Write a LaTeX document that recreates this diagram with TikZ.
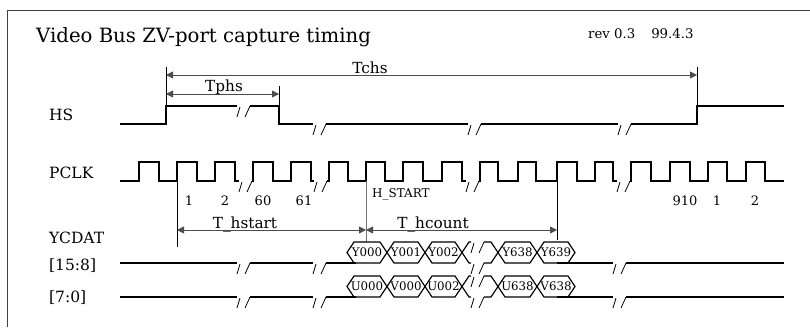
\documentclass[tikz,border=0pt]{standalone}
\usepackage{fontspec}
\setmainfont{DejaVu Serif}
\usetikzlibrary{arrows.meta}
\newcommand\brk[2]{\draw[brkline] (#1,#2+11) -- (#1+3,#2+1) (#1+8,#2+11) -- (#1+13,#2);}
\newcommand\hexcell[6]{%
  \draw[hexline] (#1,{(#3+#4)/2}) -- (#1+7,#3) -- (#2-7,#3) -- (#2,{(#3+#4)/2}) -- (#2-7,#4) -- (#1+7,#4) -- cycle;
  \node[hextext] (#5) at ({(#1+#2)/2},{(#3+#4)/2}) {#6};}
\tikzset{
  wave/.style={line width=1.5pt, line join=miter},
  hexline/.style={line width=1.2pt, line join=miter},
  brkline/.style={line width=0.8pt},
  tick/.style={line width=0.8pt},
  greytick/.style={line width=0.8pt, black!55},
  dimarrow/.style={line width=0.8pt, black!70, {Triangle[length=7pt,width=7pt]}-{Triangle[length=7pt,width=7pt]}},
  lbl/.style={font=\fontsize{15.5}{17}\selectfont, anchor=base west, inner sep=0pt},
  num/.style={font=\fontsize{13}{15}\selectfont, anchor=base, inner sep=0pt},
  small/.style={font=\fontsize{12}{14}\selectfont, anchor=base west, inner sep=0pt},
  dimlbl/.style={font=\fontsize{15.3}{17}\selectfont, anchor=base, inner sep=0pt},
  hextext/.style={font=\fontsize{11.8}{13}\selectfont, inner sep=0pt},
}
\begin{document}
\begin{tikzpicture}[x=1pt,y=-1pt]
\useasboundingbox (0,0) rectangle (810,327);
% frame
\draw[line width=0.9pt, black!75] (7,327) -- (7,10) -- (810,10);
% title
\node[font=\fontsize{19.7}{22}\selectfont, anchor=base west, inner sep=0pt] (title) at (36,42) {Video Bus ZV-port capture timing};
\node[font=\fontsize{13.3}{15}\selectfont, anchor=base west, inner sep=0pt] (rev) at (588,38) {rev 0.3\hspace{1.2em}99.4.3};
% signal labels
\node[lbl] (lHS) at (49,120) {HS};
\node[lbl] (lPCLK) at (49,178) {PCLK};
\node[lbl] (lYC) at (49,243) {YCDAT};
\node[lbl] (lHi) at (49,270) {[15:8]};
\node[lbl] (lLo) at (49,302) {[7:0]};
% HS waveform
\draw[wave] (120,124) -- (166,124) -- (166,106) -- (237,106);
\brk{237}{106}
\draw[wave] (250,106) -- (279,106) -- (279,124) -- (313,124);
\brk{313}{124}
\draw[wave] (326,124) -- (468,124);
\brk{468}{124}
\draw[wave] (481,124) -- (618,124);
\brk{618}{124}
\draw[wave] (631,124) -- (697,124) -- (697,106) -- (784,106);
% HS dimension ticks and arrows
\coordinate (tchsA) at (166,75);
\coordinate (tchsB) at (697,75);
\coordinate (tphsA) at (166,94);
\coordinate (tphsB) at (279,94);
\draw[tick] (166,67) -- (166,106);
\draw[tick] (697,67) -- (697,106);
\draw[tick] (279,86) -- (279,106);
\draw[dimarrow] (tchsA) -- (tchsB);
\draw[dimarrow] (tphsA) -- (tphsB);
\node[dimlbl] (tchs) at (370,73) {Tchs};
\node[dimlbl] (tphs) at (224,91) {Tphs};
% PCLK waveform
\draw[wave] (120,181) -- (139,181) -- (139,162) -- (159,162) -- (159,181) -- (177,181) -- (177,162) -- (197,162) -- (197,181)
  -- (215,181) -- (215,162) -- (235,162) -- (235,181) -- (239,181);
\brk{239}{181}
\draw[wave] (252,181) -- (253,181) -- (253,162) -- (273,162) -- (273,181) -- (291,181) -- (291,162) -- (311,162) -- (311,181) -- (314,181);
\brk{314}{181}
\draw[wave] (327,181) -- (329,181) -- (329,162) -- (348,162) -- (348,181) -- (366,181) -- (366,162) -- (385,162) -- (385,181)
  -- (403,181) -- (403,162) -- (423,162) -- (423,181) -- (442,181) -- (442,162) -- (462,162) -- (462,181) -- (466,181);
\brk{466}{181}
\draw[wave] (479,181) -- (480,181) -- (480,162) -- (498,162) -- (498,181) -- (518,181) -- (518,162) -- (536,162) -- (536,181)
  -- (557,181) -- (557,162) -- (577,162) -- (577,181) -- (595,181) -- (595,162) -- (613,162) -- (613,181) -- (617,181);
\brk{617}{181}
\draw[wave] (630,181) -- (631,181) -- (631,162) -- (651,162) -- (651,181) -- (670,181) -- (670,162) -- (690,162) -- (690,181)
  -- (708,181) -- (708,162) -- (727,162) -- (727,181) -- (746,181) -- (746,162) -- (765,162) -- (765,181) -- (784,181);
% PCLK numbers
\node[num] (n1) at (189,205) {1};
\node[num] (n2) at (225,205) {2};
\node[num] (n60) at (263,205) {60};
\node[num] (n61) at (304,205) {61};
\node[num] (n910) at (685,205) {910};
\node[num] (n1b) at (717,205) {1};
\node[num] (n2b) at (755,205) {2};
\node[small] (hstart) at (372,197) {H\_START};
% vertical markers
\draw[tick] (177,181) -- (177,247);
\draw[greytick] (366,181) -- (366,242);
\draw[tick] (557,181) -- (557,240);
% T_hstart / T_hcount arrows
\coordinate (hsA) at (177,230);
\coordinate (hsB) at (366,230);
\coordinate (hcB) at (557,230);
\draw[dimarrow] (hsA) -- (hsB);
\draw[dimarrow] (hsB) -- (hcB);
\node[dimlbl] (thstart) at (245,228) {T\_hstart};
\node[dimlbl] (thcount) at (433,228) {T\_hcount};
% data bus [15:8]
\draw[wave] (120,263) -- (237,263);
\brk{237}{263}
\draw[wave] (250,263) -- (313,263);
\brk{313}{263}
\draw[wave] (326,263) -- (356,263);
\hexcell{347}{387}{242}{263}{y0}{Y000}
\hexcell{387}{425}{242}{263}{y1}{Y001}
\hexcell{425}{462}{242}{263}{y2}{Y002}
\draw[hexline] (471,242) -- (469,242) -- (462,252.5) -- (469,263) -- (471,263);
\brk{471}{242}
\brk{471}{263}
\draw[hexline] (484,242) -- (491,242) -- (498,252.5) -- (491,263) -- (484,263);
\hexcell{498}{537}{242}{263}{y638}{Y638}
\hexcell{537}{575}{242}{263}{y639}{Y639}
\draw[wave] (557,263) -- (613,263);
\brk{613}{263}
\draw[wave] (626,263) -- (784,263);
% data bus [7:0]
\draw[wave] (120,297) -- (237,297);
\brk{237}{297}
\draw[wave] (250,297) -- (313,297);
\brk{313}{297}
\draw[wave] (326,297) -- (356,297);
\hexcell{347}{387}{276}{297}{u0}{U000}
\hexcell{387}{425}{276}{297}{v0}{V000}
\hexcell{425}{462}{276}{297}{u2}{U002}
\draw[hexline] (471,276) -- (469,276) -- (462,286.5) -- (469,297) -- (471,297);
\brk{471}{276}
\brk{471}{297}
\draw[hexline] (484,276) -- (491,276) -- (498,286.5) -- (491,297) -- (484,297);
\hexcell{498}{537}{276}{297}{u638}{U638}
\hexcell{537}{575}{276}{297}{v638}{V638}
\draw[wave] (557,297) -- (613,297);
\brk{613}{297}
\draw[wave] (626,297) -- (784,297);
\end{tikzpicture}
\end{document}
